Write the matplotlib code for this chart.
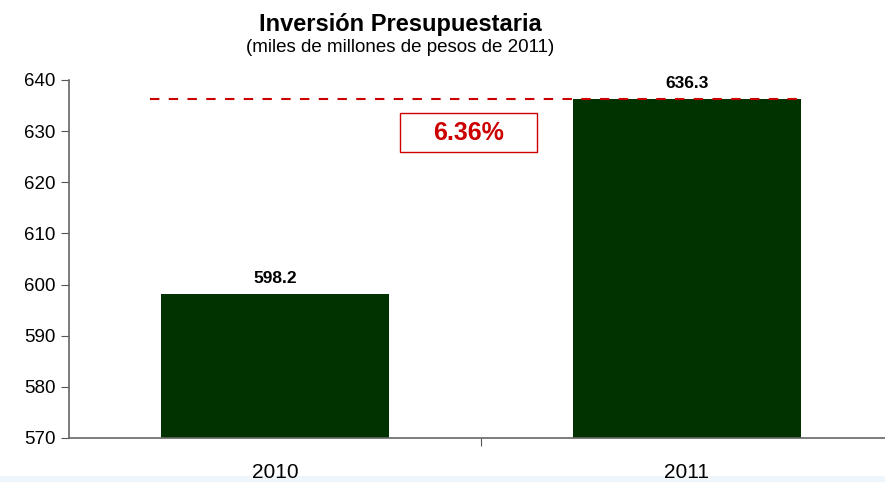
import matplotlib.pyplot as plt
from matplotlib.patches import Rectangle

plt.rcParams['font.family'] = ['Liberation Sans', 'DejaVu Sans']

# ------------------ Data ------------------
years = ["2010", "2011"]
inversion = [598.2, 636.3]
crecimiento = "6.36%"
y_ticks = [570, 580, 590, 600, 610, 620, 630, 640]

# ------------------ Plot ------------------
fig = plt.figure(figsize=(8.85, 4.82), dpi=100)
# faint band along the bottom edge
fig.patches.append(Rectangle((0, 0), 1, 6 / 482, transform=fig.transFigure,
                             fc="#eef6fb", ec="none", zorder=-1))
ax = fig.add_axes([0.078, 0.0913, 0.922, 0.743])

x = list(range(len(years)))
ax.bar(x, inversion, width=0.553, color="#003300", zorder=2)

for xi, v in zip(x, inversion):
    ax.text(xi, v + 2.1, f"{v:.1f}", ha="center", va="baseline",
            fontsize=12.5, fontweight="bold")

# dashed reference line at the 2011 level
ax.plot([-0.303, 1.277], [inversion[1], inversion[1]], ls=(0, (4.5, 4.5)),
        color="#cc0000", lw=1.5, zorder=3)

# growth box
ax.add_patch(Rectangle((0.303, 625.9), 0.333, 7.65, fc="white",
                       ec="#cc0000", lw=1, zorder=4))
ax.text(0.469, 629.7, crecimiento, ha="center", va="center", fontsize=18,
        fontweight="bold", color="#cc0000", zorder=5)

ax.set_ylim(y_ticks[0], y_ticks[-1])
ax.set_yticks(y_ticks)
ax.set_xlim(-0.5, 1.481)

# category separators as major ticks, labels on minor ticks
ax.set_xticks([0.5])
ax.set_xticklabels([])
ax.set_xticks(x, minor=True)
ax.set_xticklabels(years, minor=True, fontsize=15)
ax.tick_params(axis="x", which="major", length=6, color="#555555", direction="out")
ax.tick_params(axis="x", which="minor", length=0, pad=18)
ax.tick_params(axis="y", length=6, color="#555555", labelsize=13.5)

for side in ["top", "right"]:
    ax.spines[side].set_visible(False)
for side in ["left", "bottom"]:
    ax.spines[side].set_color("#666666")
    ax.spines[side].set_linewidth(1.2)

fig.text(400 / 885, 1 - 24 / 482, "Inversión Presupuestaria", ha="center",
         va="center", fontsize=17, fontweight="bold")
fig.text(400 / 885, 1 - 47 / 482, "(miles de millones de pesos de 2011)",
         ha="center", va="center", fontsize=13.5)

plt.savefig("out.png", dpi=100)
plt.close()
